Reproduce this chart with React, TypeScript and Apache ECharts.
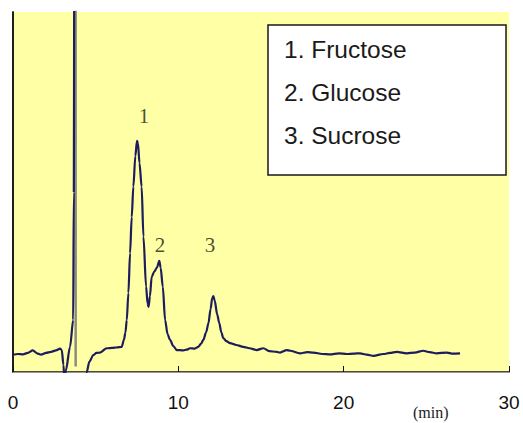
import React, { useEffect, useRef } from "react";
import * as echarts from "echarts";

// Chromatogram trace before the solvent spike (time in min, detector signal in arbitrary units)
const traceBeforeSpike: [number, number][] = [
  [0, 4.8], [0.3, 5.0], [0.6, 4.9], [0.9, 5.3], [1.2, 6.0], [1.45, 5.2], [1.7, 4.8],
  [2.0, 5.3], [2.3, 5.6], [2.6, 6.0], [2.85, 6.5], [2.95, 6.1], [3.05, 2.0], [3.12, -3],
  [3.2, 0.5], [3.45, 7], [3.64, 14.4], [3.68, 50], [3.7, 110],
];

// Gray descending edge of the solvent spike
const spikeTail: [number, number][] = [[3.79, 110], [3.79, 1.5]];

// Trace after the solvent spike
const traceAfterSpike: [number, number][] = [
  [4.4, -4], [4.46, 0], [4.62, 2.9], [4.86, 4.7], [5.05, 5.3], [5.26, 5.4], [5.67, 6.6],
  [6.0, 6.7], [6.27, 6.8], [6.57, 7.0], [6.71, 8.9], [6.8, 11], [6.88, 14.4], [6.98, 22],
  [7.08, 33], [7.18, 43], [7.28, 51.5], [7.4, 60], [7.5, 64.2], [7.56, 63.5], [7.65, 58],
  [7.78, 51.5], [7.89, 37.6], [8.05, 23.7], [8.14, 19], [8.2, 18.1], [8.28, 21],
  [8.39, 26.5], [8.55, 27.9], [8.7, 29], [8.85, 30.9], [8.93, 29], [9.06, 23.7],
  [9.2, 14.4], [9.35, 10.5], [9.5, 8.9], [9.7, 7.2], [9.9, 6.1], [10.3, 6.0], [10.5, 6.2],
  [10.71, 6.6], [11.0, 6.5], [11.21, 7.0], [11.38, 7.9], [11.51, 8.9], [11.68, 11],
  [11.82, 13.5], [11.95, 17.5], [12.05, 20.5], [12.12, 21.1], [12.2, 19.8], [12.35, 16],
  [12.48, 13.5], [12.6, 11], [12.72, 9.4], [12.9, 8.6], [13.13, 8.0], [13.5, 7.5],
  [13.93, 7.0], [14.3, 6.6], [14.74, 6.1], [15.14, 6.6], [15.5, 5.8], [15.95, 5.6],
  [16.15, 5.4], [16.56, 6.1], [16.76, 5.9], [17.36, 5.2], [17.8, 5.5], [18.17, 5.4],
  [18.7, 5.0], [19.18, 4.9], [19.7, 5.2], [20.19, 5.0], [20.6, 5.1], [20.99, 5.2],
  [21.4, 4.8], [21.8, 4.5], [22.4, 5.0], [22.8, 5.3], [23.21, 5.6], [23.82, 5.2],
  [24.3, 5.4], [24.82, 5.9], [25.2, 5.5], [25.63, 5.2], [26.24, 5.4], [26.6, 5.1],
  [27.04, 5.2],
];

// Peak labels
const peakNumbers = ["1", "2", "3"];
const peakLabelTimes = [7.92, 8.89, 11.92];
const peakLabelSignals = [71.1, 35.3, 35.3];

// Legend compounds
const compounds = ["Fructose", "Glucose", "Sucrose"];

// Axis
const xTicks = [0, 10, 20, 30];
const xUnit = "(min)";

const NAVY = "#1d1d5e";

export default function App() {
  const ref = useRef<HTMLDivElement>(null);

  useEffect(() => {
    if (!ref.current) return;
    const chart = echarts.init(ref.current, undefined, { renderer: "svg" });

    const legendTexts = compounds.map((c, i) => ({
      type: "text",
      left: 284,
      top: 50 + i * 43 - 13,
      style: {
        text: `${i + 1}. ${c}`,
        fontSize: 24.5,
        fontFamily: "Liberation Sans, Arial, sans-serif",
        fill: "#1a1a1a",
      },
      z: 101,
    }));

    chart.setOption({
      animation: false,
      backgroundColor: "#ffffff",
      grid: {
        left: 13,
        right: 14,
        top: 12,
        bottom: 51,
        show: true,
        backgroundColor: "#FFFFA6",
        borderWidth: 0,
      },
      xAxis: [
        {
          type: "value",
          position: "bottom",
          min: xTicks[0],
          max: xTicks[xTicks.length - 1],
          interval: 10,
          axisLine: { show: true, lineStyle: { color: "#111", width: 1.5 } },
          axisTick: { show: true, inside: true, length: 6, lineStyle: { color: "#111" } },
          splitLine: { show: false },
          axisLabel: {
            show: true,
            margin: 21,
            fontSize: 19,
            color: "#111",
            fontFamily: "Liberation Sans, Arial, sans-serif",
          },
        },
        {
          type: "value",
          position: "top",
          min: xTicks[0],
          max: xTicks[xTicks.length - 1],
          axisLine: { show: true, lineStyle: { color: "#999", width: 1 } },
          axisTick: { show: false },
          axisLabel: { show: false },
          splitLine: { show: false },
        },
      ],
      yAxis: [
        {
          type: "value",
          position: "left",
          min: 0,
          max: 100,
          axisLine: { show: true, lineStyle: { color: "#111", width: 1.5 } },
          axisTick: { show: false },
          axisLabel: { show: false },
          splitLine: { show: false },
        },
        {
          type: "value",
          position: "right",
          min: 0,
          max: 100,
          axisLine: { show: true, lineStyle: { color: "#111", width: 1.5 } },
          axisTick: { show: false },
          axisLabel: { show: false },
          splitLine: { show: false },
        },
      ],
      series: [
        {
          type: "line",
          data: spikeTail,
          showSymbol: false,
          silent: true,
          lineStyle: { color: "#8c8c80", width: 2.5 },
          z: 2,
        },
        {
          type: "line",
          data: traceBeforeSpike,
          showSymbol: false,
          smooth: 0.3,
          smoothMonotone: "x",
          silent: true,
          lineStyle: { color: NAVY, width: 2.2 },
          z: 3,
        },
        {
          type: "line",
          data: traceAfterSpike,
          showSymbol: false,
          smooth: 0.3,
          smoothMonotone: "x",
          silent: true,
          lineStyle: { color: NAVY, width: 2.2 },
          z: 3,
        },
        {
          type: "scatter",
          data: peakLabelTimes.map((t, i) => [t, peakLabelSignals[i], peakNumbers[i]]),
          symbolSize: 1,
          itemStyle: { color: "rgba(0,0,0,0)" },
          silent: true,
          label: {
            show: true,
            position: "inside",
            formatter: (p: any) => p.value[2],
            fontSize: 21,
            fontFamily: "Liberation Serif, Times New Roman, serif",
            color: "#1c1c12",
          },
          z: 4,
        },
      ],
      graphic: [
        {
          type: "rect",
          shape: { x: 268, y: 25, width: 238, height: 150 },
          style: { fill: "#ffffff", stroke: "#1a1a1a", lineWidth: 1.5 },
          z: 100,
        },
        ...legendTexts,
        {
          type: "text",
          left: 413,
          top: 404,
          style: {
            text: xUnit,
            fontSize: 16,
            fontFamily: "Liberation Serif, Times New Roman, serif",
            fill: "#222",
          },
          z: 100,
        },
      ],
    });

    return () => chart.dispose();
  }, []);

  return (
    <div
      ref={ref}
      style={{ position: "absolute", left: 0, top: 0, width: 523, height: 423 }}
    />
  );
}
